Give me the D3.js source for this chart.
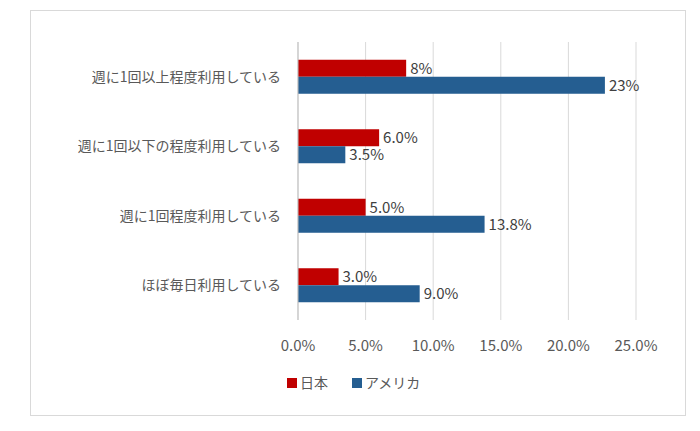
<!DOCTYPE html><html><head><meta charset="utf-8"><script src="https://cdn.jsdelivr.net/npm/d3@7"></script>
<style>body{margin:0;background:#fff}text{font-family:"Noto Sans CJK JP","Noto Sans",sans-serif;fill:#404040}</style></head><body>
<svg id="c" width="700" height="431"></svg>
<script>
const categories=["週に1回以上程度利用している","週に1回以下の程度利用している","週に1回程度利用している","ほぼ毎日利用している"];
const seriesNames=["日本","アメリカ"];
const japan=[8,6,5,3];
const usa=[22.7,3.5,13.8,9.0];
const japanLabels=["8%","6.0%","5.0%","3.0%"];
const usaLabels=["23%","3.5%","13.8%","9.0%"];
const ticks=[0,5,10,15,20,25];
const colors=["#C00000","#255E91"];
const svg=d3.select("#c");
svg.append("rect").attr("x",30.5).attr("y",10.5).attr("width",655).attr("height",405).attr("fill","#fff").attr("stroke","#d9d9d9");
const x=d3.scaleLinear().domain([0,25]).range([298,636]);
const y=d3.scaleBand().domain(categories).range([42,320]);
svg.selectAll(".g").data(ticks).join("line").attr("x1",d=>x(d)).attr("x2",d=>x(d)).attr("y1",42).attr("y2",320).attr("stroke","#d9d9d9");
const bh=17;
[japan,usa].forEach((s,si)=>{
 const labs=si?usaLabels:japanLabels;
 categories.forEach((c,i)=>{
  const yc=y(c)+y.bandwidth()/2;
  const top=si?yc:yc-bh;
  svg.append("rect").attr("x",x(0)).attr("y",top).attr("width",x(s[i])-x(0)).attr("height",bh).attr("fill",colors[si]);
  svg.append("text").attr("x",x(s[i])+4).attr("y",top+bh/2).attr("dy","0.35em").attr("font-size",15).text(labs[i]);
 });
});
svg.append("line").attr("x1",x(0)).attr("x2",x(0)).attr("y1",42).attr("y2",320).attr("stroke","#bfbfbf");
categories.forEach(c=>svg.append("text").attr("x",281).attr("y",y(c)+y.bandwidth()/2).attr("dy","0.35em").attr("text-anchor","end").attr("font-size",14).attr("style","fill:#595959").text(c));
ticks.forEach(t=>svg.append("text").attr("x",x(t)).attr("y",346).attr("dy","0.35em").attr("text-anchor","middle").attr("font-size",15).attr("style","fill:#595959").text(t.toFixed(1)+"%"));
const lx=[287,352];
seriesNames.forEach((n,i)=>{
 svg.append("rect").attr("x",lx[i]).attr("y",378).attr("width",10).attr("height",10).attr("fill",colors[i]);
 svg.append("text").attr("x",lx[i]+13).attr("y",383).attr("dy","0.35em").attr("font-size",14).attr("style","fill:#595959").text(n);
});
</script></body></html>
